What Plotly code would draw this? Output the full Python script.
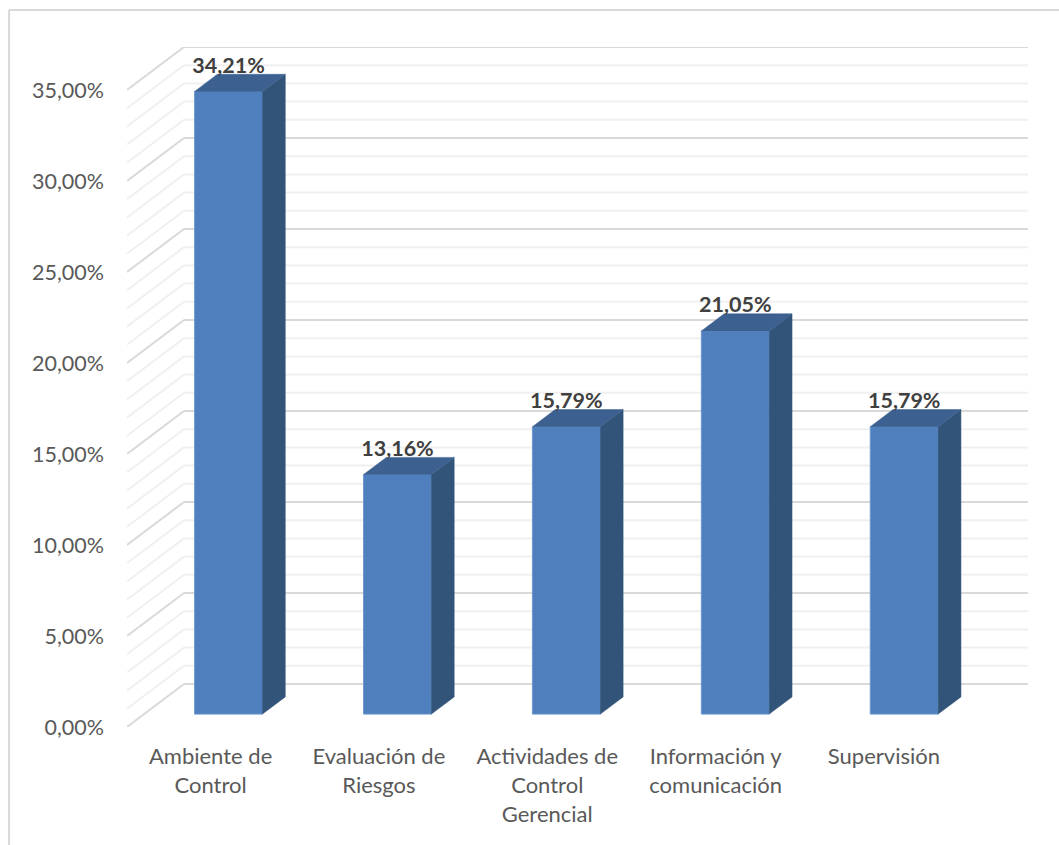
import plotly.graph_objects as go

# Chart data
categories = [
    ["Ambiente de", "Control"],
    ["Evaluación de", "Riesgos"],
    ["Actividades de", "Control", "Gerencial"],
    ["Información y", "comunicación"],
    ["Supervisión"],
]
values = [34.21, 13.16, 15.79, 21.05, 15.79]
y_ticks = [0, 5, 10, 15, 20, 25, 30, 35]

# Pseudo-3D projection: depth 0 is the front plane, depth 1 the back wall
DEPTH_X = 0.3373      # category units
DEPTH_Y = 2.363       # percentage points
BAR_WIDTH = 0.402
BAR_FRONT = 0.30
BAR_BACK = 0.70
X_RANGE = [-0.5, 4.834]
Y_RANGE = [0, 35 + DEPTH_Y]
W, H = 1059, 845
M = dict(l=126.5, r=31, t=47, b=118)

FONT = "Lato, Carlito, Calibri, sans-serif"
TEXT = "#595959"
LABEL_STEP = 0.9965   # category labels sit slightly tighter than the bars
LABEL_SHIFT = -0.005


def project(x, depth, v):
    return x + depth * DEPTH_X, v + depth * DEPTH_Y


def pct(v):
    return f"{v:.2f}".replace(".", ",") + "%"


def paper_x(px):
    return (px - M["l"]) / (W - M["l"] - M["r"])


def paper_y(py):
    return 1 - (py - M["t"]) / (H - M["t"] - M["b"])


fig = go.Figure()

# Wall gridlines: a slanted piece on the side wall and a flat one on the back wall
shapes = []
for level in range(0, 36):
    major = level % 5 == 0
    line = dict(color="#d9d9d9" if major else "#f0f0f0", width=2)
    x0, y0 = project(X_RANGE[0], 0, level)
    x1, y1 = project(X_RANGE[0], 1, level)
    x2, y2 = project(4.5, 1, level)
    shapes.append(dict(type="line", xref="x", yref="y", x0=x0, y0=y0, x1=x1, y1=y1,
                       line=line, layer="below"))
    shapes.append(dict(type="line", xref="x", yref="y", x0=x1, y0=y1, x1=x2, y1=y2,
                       line=line, layer="below"))

# Chart frame, open on the right and bottom
frame = dict(color="#d9d9d9", width=2)
shapes.append(dict(type="line", xref="paper", yref="paper", x0=paper_x(8.5), x1=paper_x(8.5),
                   y0=paper_y(10), y1=paper_y(845), line=frame, layer="below"))
shapes.append(dict(type="line", xref="paper", yref="paper", x0=paper_x(8.5), x1=paper_x(1059),
                   y0=paper_y(10), y1=paper_y(10), line=frame, layer="below"))

# Front faces
positions = list(range(len(values)))
front_x = [project(i, BAR_FRONT, 0)[0] for i in positions]
front_base = project(0, BAR_FRONT, 0)[1]
fig.add_trace(go.Bar(
    x=front_x, y=values, base=front_base, width=BAR_WIDTH,
    marker=dict(color="#4f80bd", line=dict(color="#6d98cf", width=1)),
    hoverinfo="skip",
))

# Side and top faces
for i, v in zip(positions, values):
    right = i + BAR_WIDTH / 2
    left = i - BAR_WIDTH / 2
    corners = [project(right, BAR_FRONT, 0), project(right, BAR_BACK, 0),
               project(right, BAR_BACK, v), project(right, BAR_FRONT, v)]
    fig.add_trace(go.Scatter(
        x=[c[0] for c in corners] + [corners[0][0]],
        y=[c[1] for c in corners] + [corners[0][1]],
        mode="lines", fill="toself", fillcolor="#325479",
        line=dict(color="#325479", width=0.5), hoverinfo="skip",
    ))
    corners = [project(left, BAR_FRONT, v), project(right, BAR_FRONT, v),
               project(right, BAR_BACK, v), project(left, BAR_BACK, v)]
    fig.add_trace(go.Scatter(
        x=[c[0] for c in corners] + [corners[0][0]],
        y=[c[1] for c in corners] + [corners[0][1]],
        mode="lines", fill="toself", fillcolor="#3c6190",
        line=dict(color="#3c6190", width=0.5), hoverinfo="skip",
    ))

# Value labels, centred above each front face
LABEL_LIFT = 1.33
fig.add_trace(go.Scatter(
    x=front_x,
    y=[project(0, BAR_FRONT, v)[1] + LABEL_LIFT for v in values],
    mode="text",
    text=[pct(v) for v in values],
    textposition="middle center",
    textfont=dict(family=FONT, size=21.5, color="#404040", weight="bold"),
    hoverinfo="skip",
))


def tick_label(lines):
    return "<br>".join(f'<span style="font-size:22px">{s}</span>' for s in lines)


fig.update_layout(
    width=W, height=H, margin=M, showlegend=False, barmode="overlay",
    paper_bgcolor="white", plot_bgcolor="rgba(0,0,0,0)",
    shapes=shapes,
    font=dict(family=FONT, color=TEXT),
    xaxis=dict(
        range=X_RANGE, tickmode="array",
        tickvals=[i * LABEL_STEP + LABEL_SHIFT for i in positions],
        ticktext=[tick_label(c) for c in categories],
        tickfont=dict(family=FONT, size=22.3, color=TEXT),
        showgrid=False, zeroline=False, showline=False, ticks="",
        ticklabelstandoff=14, tickangle=0,
    ),
    yaxis=dict(
        range=Y_RANGE, tickmode="array", tickvals=y_ticks,
        ticktext=[pct(t) for t in y_ticks],
        tickfont=dict(family=FONT, size=21.5, color=TEXT),
        showgrid=False, zeroline=False, showline=False, ticks="",
        ticklabelstandoff=22,
    ),
)

fig.write_html("out.html")
